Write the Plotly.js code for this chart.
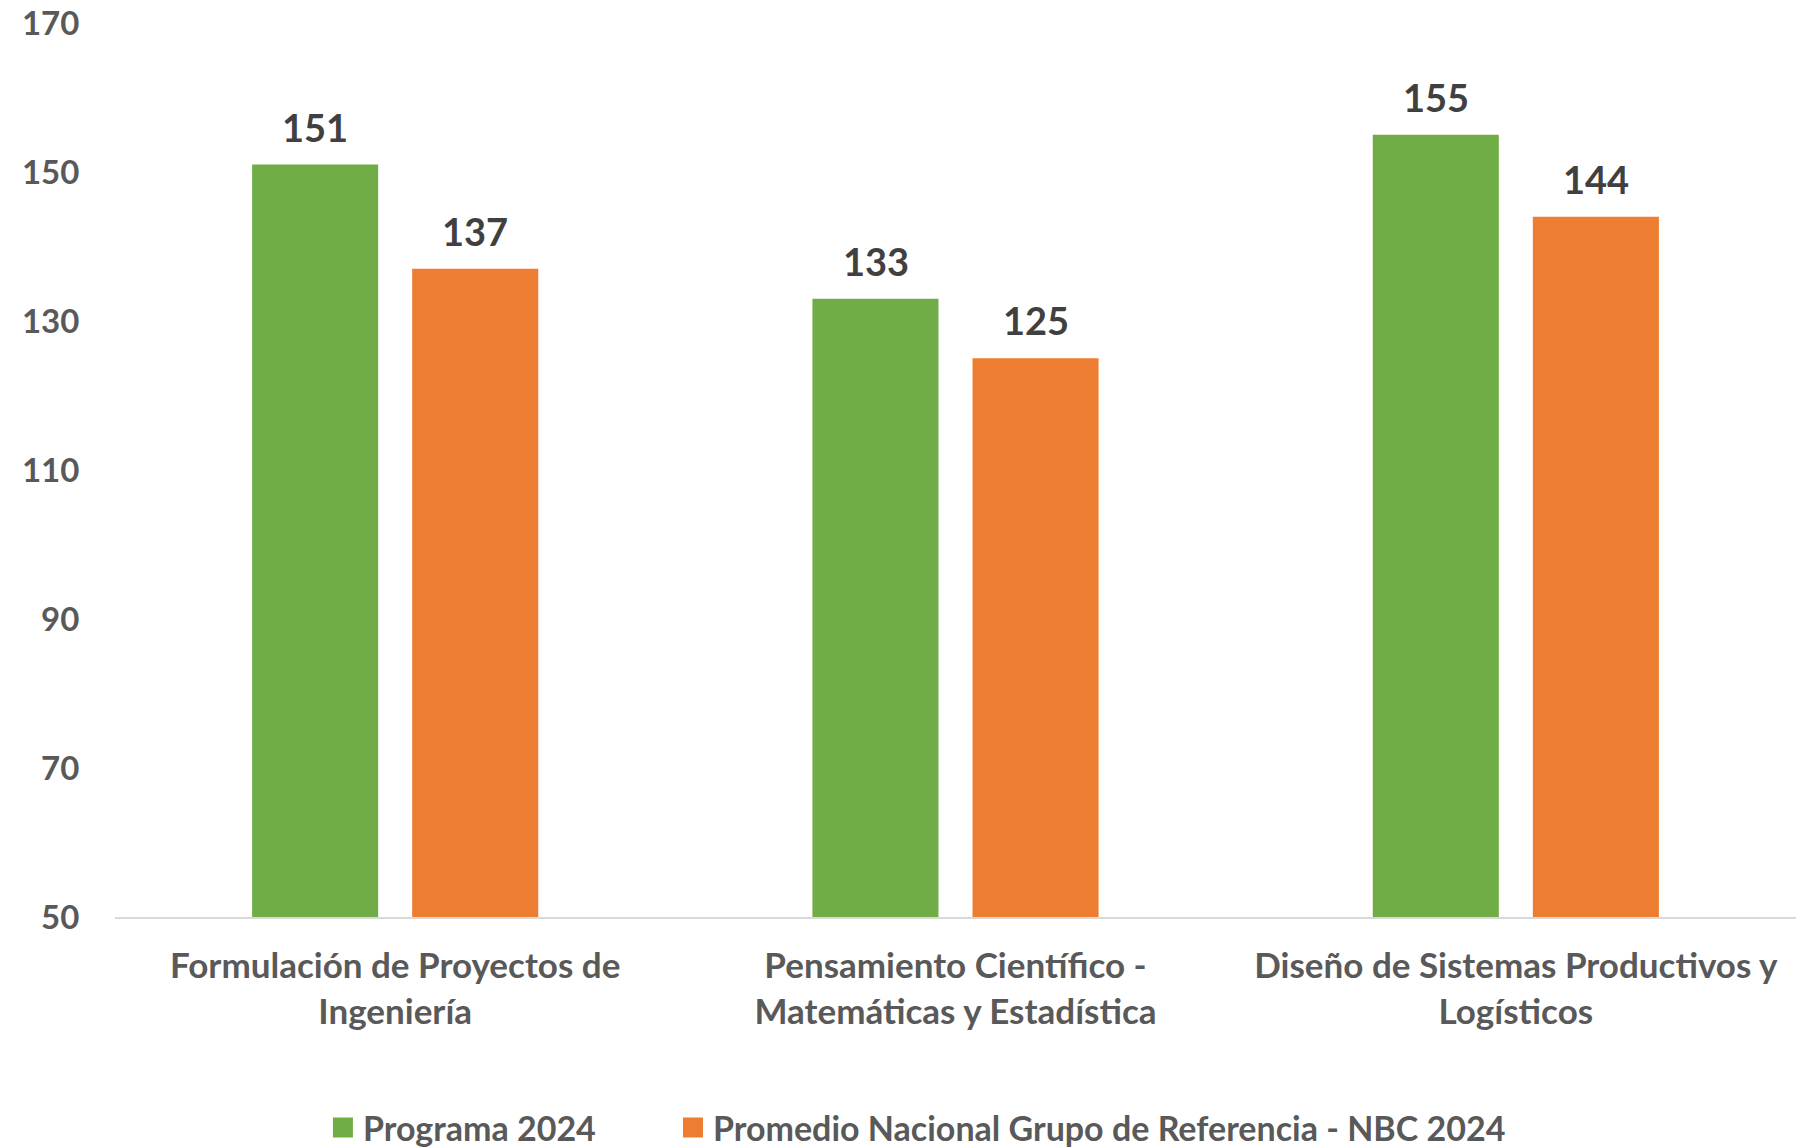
<!DOCTYPE html>
<html>
<head>
<meta charset="utf-8">
<script src="https://cdn.plot.ly/plotly-3.0.1.min.js"></script>
<style>html,body{margin:0;padding:0;background:#fff;}#chart{width:1796px;height:1147px;}</style>
</head>
<body>
<div id="chart"></div>
<script>
const categories = [
  "Formulación de Proyectos de<br>Ingeniería",
  "Pensamiento Científico -<br>Matemáticas y Estadística",
  "Diseño de Sistemas Productivos y<br>Logísticos"
];
const seriesNames = ["Programa 2024", "Promedio Nacional Grupo de Referencia - NBC 2024"];
const programa = [151, 133, 155];
const promedio = [137, 125, 144];
const yTicks = [50, 70, 90, 110, 130, 150, 170];

const FONT = "Lato, 'Open Sans', sans-serif";
const green = "#70AD47", orange = "#ED7D31";
const series = [
  {name: seriesNames[0], vals: programa, color: green, legend: "legend", dx: -80},
  {name: seriesNames[1], vals: promedio, color: orange, legend: "legend2", dx: 80}
];

const data = series.map(s => ({
  type: "bar", name: s.name, x: categories, y: s.vals,
  marker: {color: s.color},
  showlegend: false,
  hoverinfo: "skip"
}));

// legend-only entries (larger square swatches)
series.forEach(s => {
  data.push({
    type: "scatter", mode: "markers", name: s.name,
    x: [categories[0]], y: [null],
    marker: {symbol: "square", size: 16, color: s.color, line: {color: s.color, width: 4}},
    legend: s.legend, showlegend: true, hoverinfo: "skip"
  });
});

const annotations = [];
series.forEach(s => {
  s.vals.forEach((v, i) => {
    annotations.push({
      x: categories[i], y: v, xref: "x", yref: "y",
      xshift: s.dx, yshift: 13, yanchor: "bottom", xanchor: "center",
      showarrow: false, text: String(v),
      font: {family: FONT, size: 38, color: "#404040", weight: 700}
    });
  });
});

const legFont = {family: FONT, size: 34, color: "#595959", weight: 700};

const layout = {
  width: 1796, height: 1147,
  margin: {l: 114.5, r: 0, t: 23, b: 230},
  paper_bgcolor: "#fff", plot_bgcolor: "#fff",
  barmode: "group", bargap: 0.4286, bargroupgap: 0.2125,
  font: {family: FONT, color: "#595959", weight: 700},
  xaxis: {
    showgrid: false, zeroline: false,
    showline: true, linecolor: "#D9D9D9", linewidth: 2,
    ticks: "outside", ticklen: 17, tickcolor: "rgba(0,0,0,0)",
    tickfont: {family: FONT, size: 35, color: "#595959", weight: 700}
  },
  yaxis: {
    range: [50, 170], tickvals: yTicks, ticktext: yTicks.map(String),
    showgrid: false, zeroline: false, showline: false,
    ticks: "outside", ticklen: 28, tickcolor: "rgba(0,0,0,0)",
    tickfont: {family: FONT, size: 33, color: "#595959", weight: 700}
  },
  annotations: annotations,
  showlegend: true,
  legend: {
    orientation: "h", xref: "container", yref: "container",
    x: 0.1798, xanchor: "left", y: 0.0166, yanchor: "middle",
    font: legFont
  },
  legend2: {
    orientation: "h", xref: "container", yref: "container",
    x: 0.3747, xanchor: "left", y: 0.0166, yanchor: "middle",
    font: legFont
  }
};

Plotly.newPlot("chart", data, layout, {staticPlot: true, displayModeBar: false});
</script>
</body>
</html>
